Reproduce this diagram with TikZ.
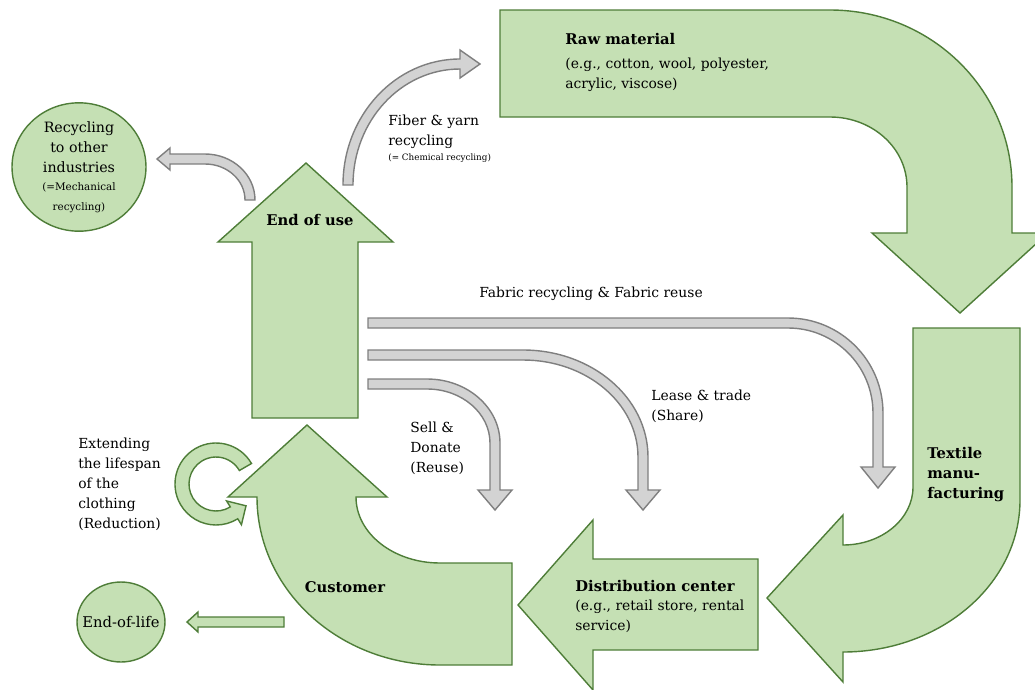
\documentclass[tikz,border=0pt]{standalone}
\usepackage{fontspec}
\setmainfont{DejaVu Serif}
\usetikzlibrary{shapes.geometric,calc}

\definecolor{leaf}{HTML}{C5E0B4}
\definecolor{leafline}{HTML}{4E7D38}
\definecolor{band}{HTML}{D3D3D3}
\definecolor{bandline}{HTML}{7F7F7F}

\tikzset{
  greenarrow/.style={fill=leaf, draw=leafline, line width=0.8pt, line join=miter},
  grayband/.style={fill=band, draw=bandline, line width=0.8pt, line join=miter},
  bubble/.style={ellipse, fill=leaf, draw=leafline, line width=0.8pt, inner sep=0pt, align=center},
  txt/.style={inner sep=0pt, align=left, font=\fontsize{7.9}{11.3}\selectfont},
  bold/.style={inner sep=0pt, align=left, font=\fontsize{8.4}{11.3}\selectfont\bfseries},
  tiny/.style={font=\fontsize{5.9}{8.4}\selectfont}
}
\newcommand\headline[1]{\textbf{\fontsize{8.4}{11.3}\selectfont #1}}

\begin{document}
\begin{tikzpicture}[x=0.02cm, y=-0.02cm]
\useasboundingbox (0,0) rectangle (1035,690);

% big green arrows of the loop
\draw [greenarrow] (500,10) -- (830,10) arc [start angle=-90, end angle=0, x radius=182, y radius=177] -- (1012,233) -- (1048,233) -- (960,313) -- (872,233) -- (907,233) -- (907,187) arc [start angle=0, end angle=-90, x radius=77, y radius=70] -- (500,117) -- cycle;
\draw [greenarrow] (913,328) -- (1020,328) -- (1020,500) arc [start angle=0, end angle=90, x radius=177, y radius=152] -- (843,682) -- (767,598) -- (843,515) -- (843,545) arc [start angle=90, end angle=0, x radius=70, y radius=58] -- cycle;
\draw [greenarrow] (758,559) -- (758,650) -- (593,650) -- (593,690) -- (518,605) -- (593,520) -- (593,559) -- cycle;
\draw [greenarrow] (512,563) -- (512,665) -- (440,665) arc [start angle=90, end angle=180, x radius=183, y radius=168] -- (228,497) -- (307,425) -- (387,497) -- (356,497) arc [start angle=180, end angle=90, x radius=84, y radius=66] -- cycle;
\draw [greenarrow] (252,418) -- (252,242) -- (218,242) -- (306,163) -- (393,242) -- (358,242) -- (358,418) -- cycle;

% small green arrows
\draw [greenarrow] (284,617) -- (198,617) -- (198,612) -- (187,622) -- (198,632) -- (198,627) -- (284,627) -- cycle;
\coordinate (loop) at (216,484);
\draw [greenarrow] ($(loop)+(-30:41)$) arc [start angle=-30, end angle=-302, radius=41] -- ($(loop)+(-302:48)$) -- ($(loop)+(-302:34)+(12,-7)$) -- ($(loop)+(-302:20)$) -- ($(loop)+(-302:27)$) arc [start angle=-302, end angle=-30, radius=27] -- cycle;

% gray arrows
\draw [grayband] (343,185) arc [start angle=180, end angle=270, x radius=117, y radius=126] -- (460,50) -- (480,64) -- (460,78) -- (460,69) arc [start angle=270, end angle=180, x radius=107, y radius=116] -- cycle;
\draw [grayband] (255,200) arc [start angle=0, end angle=-90, x radius=50, y radius=46] -- (170,154) -- (170,148) -- (157,159) -- (170,170) -- (170,164) -- (205,164) arc [start angle=-90, end angle=0, x radius=40, y radius=36] -- cycle;
\foreach \yy/\cx/\rx/\ry/\hb/\tp in {384/427/68/59/490/510, 355/523/120/102/490/510, 323/788/90/90/467/488}
{
\pgfmathsetmacro\vx{\cx+\rx}
\draw [grayband] (368,\yy-5) -- (\cx,\yy-5) arc [start angle=-90, end angle=0, x radius=\rx+5, y radius=\ry+5] -- (\vx+5,\hb) -- (\vx+17,\hb) -- (\vx,\tp) -- (\vx-17,\hb) -- (\vx-5,\hb) -- (\vx-5,\yy+\ry) arc [start angle=0, end angle=-90, x radius=\rx-5, y radius=\ry-5] -- (368,\yy+5) -- cycle;
}

% bubbles
\node (other) [bubble, minimum width=2.68cm, minimum height=2.4cm, font=\fontsize{8.1}{11.3}\selectfont] at (79,167) {Recycling\\to other\\industries\\[-1pt]{\fontsize{5.9}{6.8}\selectfont(=Mechanical}\\{\fontsize{5.9}{6.8}\selectfont recycling)}};
\node (eol) [bubble, minimum width=1.76cm, minimum height=1.6cm, font=\fontsize{8.4}{11}\selectfont] at (121,622) {\makebox[0pt]{End-of-life}};

% texts (multi-line ones sit on their last line)
\node (raw) [txt, anchor=base west] at (565,88) {\headline{Raw material}\\[2pt](e.g., cotton, wool, polyester,\\acrylic, viscose)};
\node (fiber) [txt, anchor=base west] at (388,160) {Fiber \& yarn\\recycling\\[-3pt]{\tiny (= Chemical recycling)}};
\node (enduse) [bold, anchor=base] at (310,225) {End of use};
\node (fabric) [txt, anchor=base] at (591,297) {Fabric recycling \& Fabric reuse};
\node (lease) [txt, anchor=base west] at (651,420) {Lease \& trade\\(Share)};
\node (sell) [txt, anchor=base west] at (410,472) {Sell \&\\Donate\\(Reuse)};
\node (textile) [bold, anchor=base west] at (927,498) {Textile\\manu-\\facturing};
\node (distrib) [txt, anchor=base west, font=\fontsize{7.9}{11}\selectfont] at (575,630) {\headline{Distribution center}\\(e.g., retail store, rental\\service)};
\node (customer) [bold, anchor=base] at (345,592) {Customer};
\node (extend) [txt, anchor=base west, font=\fontsize{7.9}{11.3}\selectfont] at (78,528) {Extending\\the lifespan\\of the\\clothing\\(Reduction)};
\end{tikzpicture}
\end{document}
